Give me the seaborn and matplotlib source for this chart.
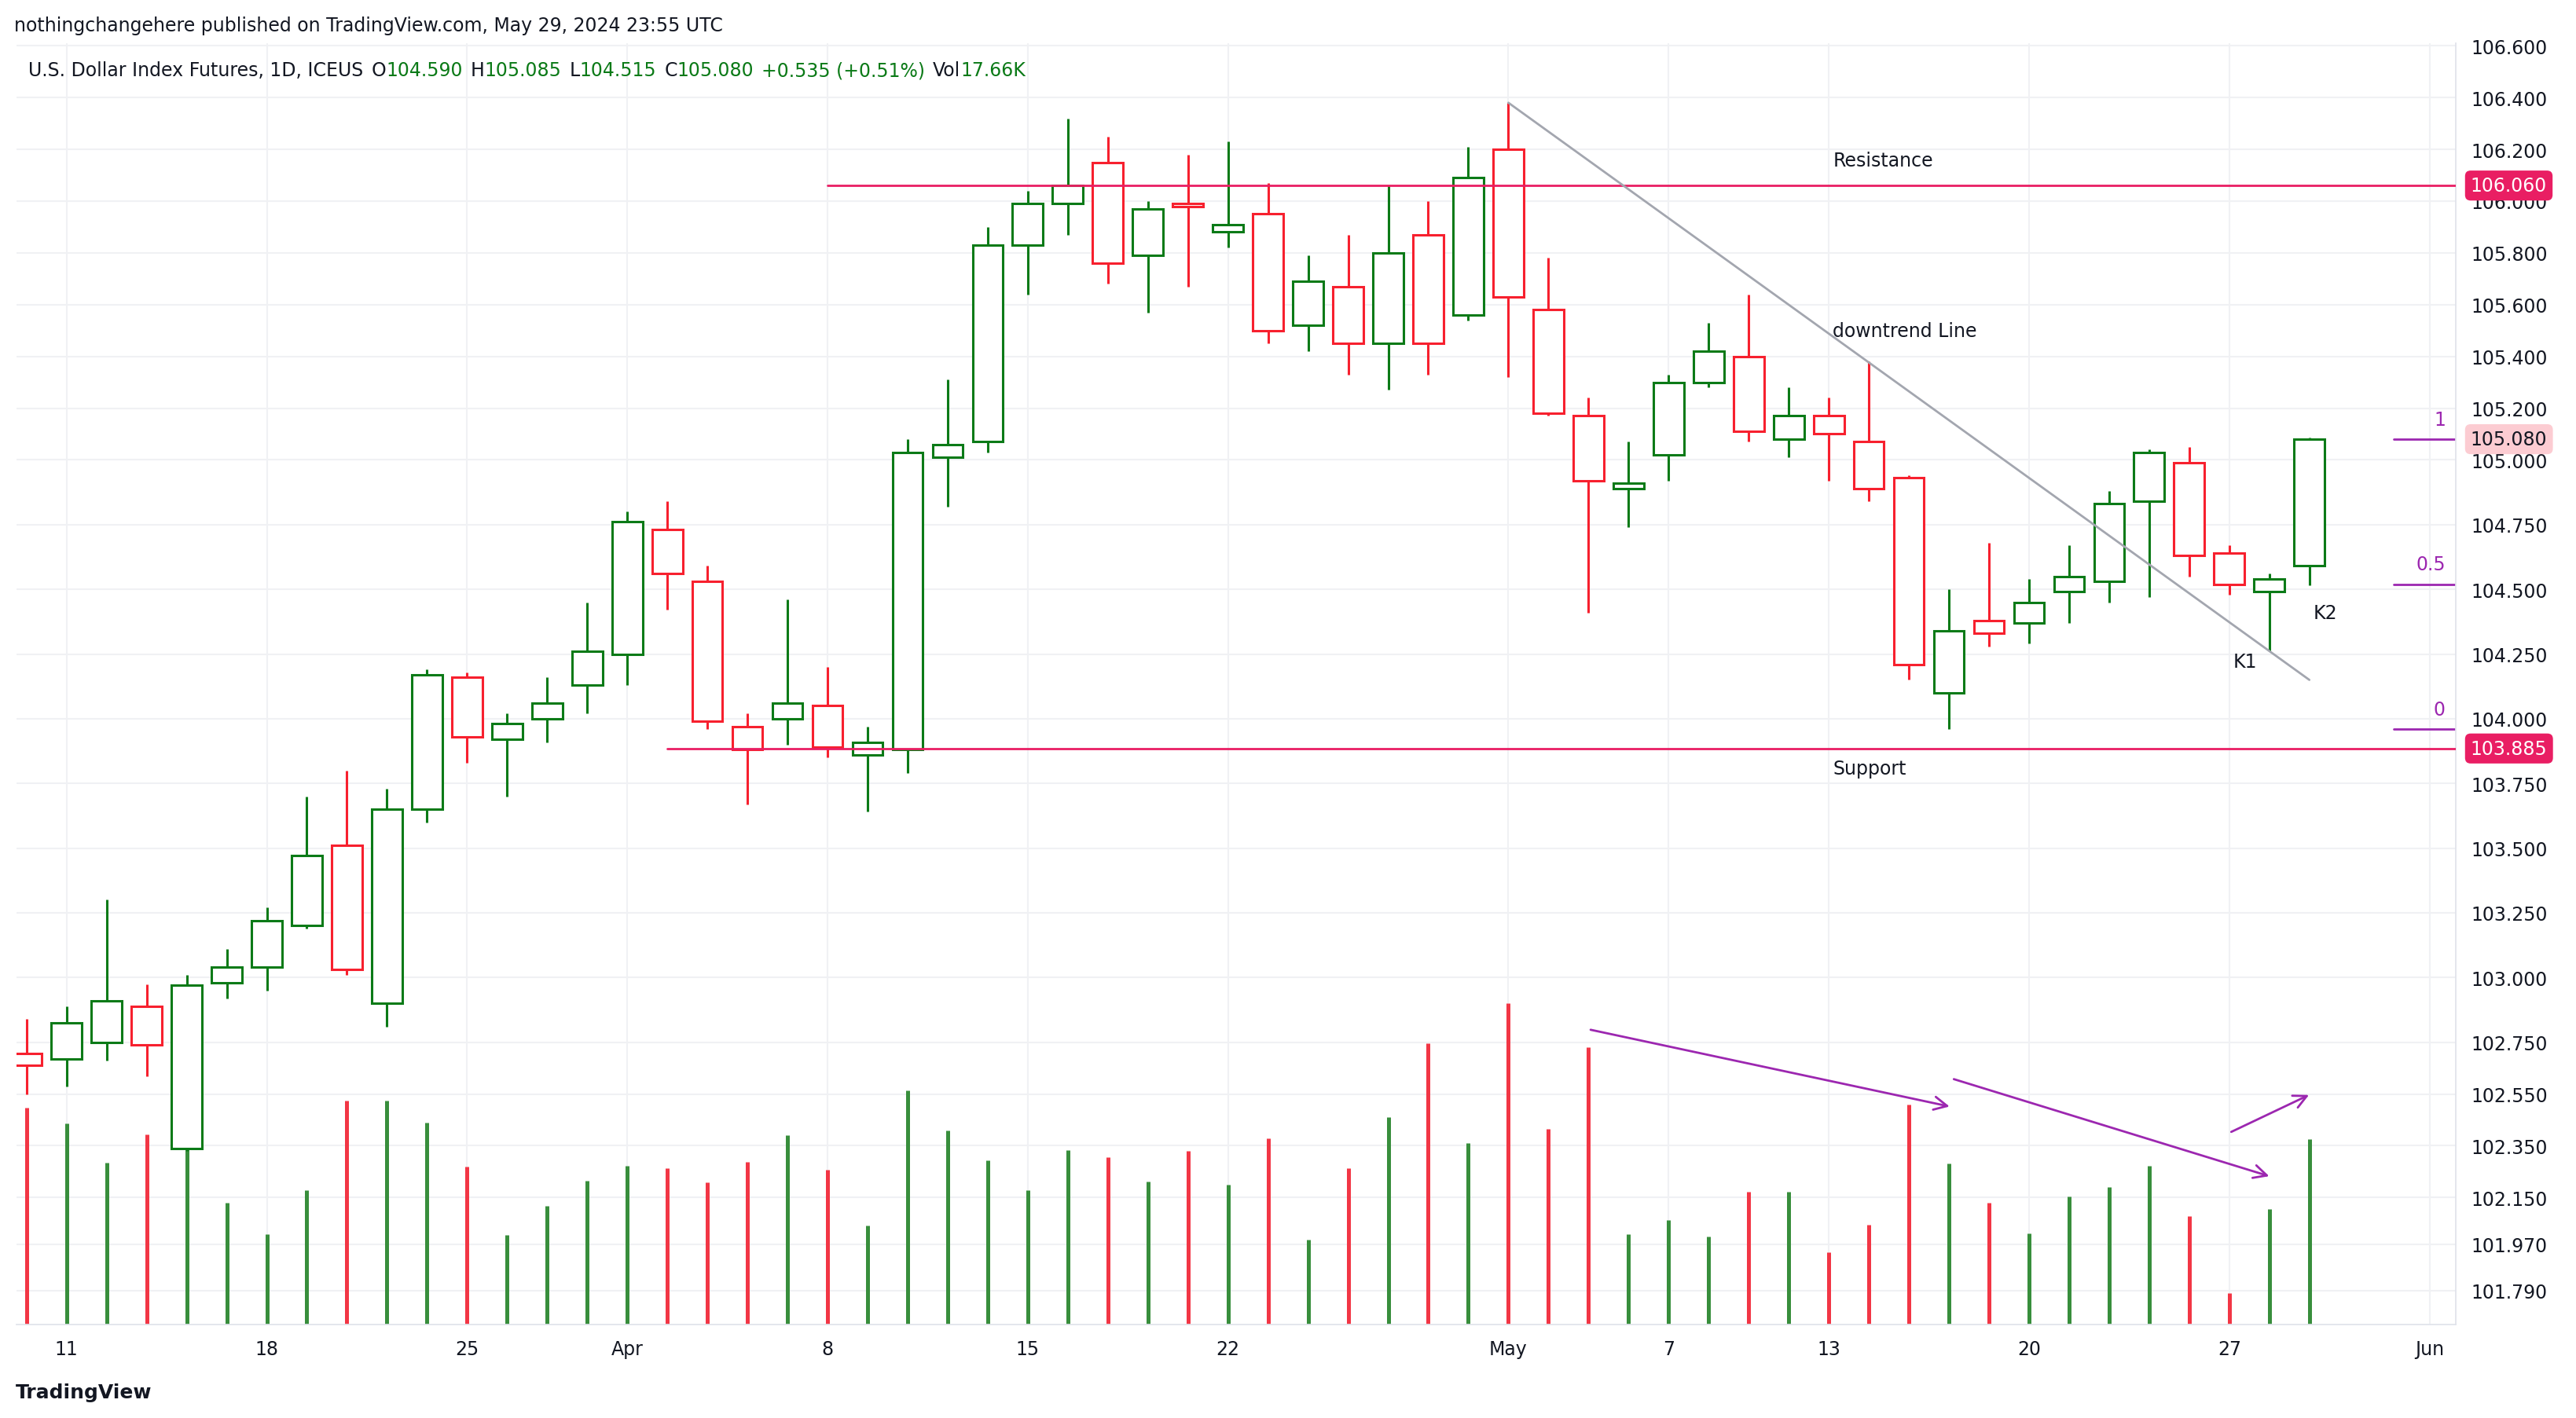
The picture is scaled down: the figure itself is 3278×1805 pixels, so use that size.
import numpy as np
import pandas as pd
import seaborn as sns
import matplotlib.pyplot as plt
import matplotlib.transforms as mtransforms

sns.set_theme(style="white")

# daily bars, Mar 8 .. May 29 2024 (trading days only)
opens = [102.706, 102.685, 102.75, 102.89, 102.34, 102.98, 103.04, 103.2, 103.51, 102.90,
         103.65, 104.16, 103.92, 104.0, 104.13, 104.25, 104.73, 104.53, 103.97, 104.0,
         104.05, 103.86, 103.88, 105.01, 105.07, 105.83, 105.99, 106.15, 105.79, 105.99,
         105.88, 105.95, 105.52, 105.67, 105.45, 105.87, 105.56, 106.2, 105.58, 105.17,
         104.89, 105.02, 105.30, 105.40, 105.08, 105.17, 105.07, 104.93, 104.10, 104.38,
         104.37, 104.49, 104.53, 104.84, 104.99, 104.64, 104.49, 104.59]
closes = [102.66, 102.825, 102.91, 102.74, 102.97, 103.04, 103.22, 103.47, 103.03, 103.65,
          104.17, 103.93, 103.98, 104.06, 104.26, 104.76, 104.56, 103.99, 103.88, 104.06,
          103.89, 103.91, 105.03, 105.06, 105.83, 105.99, 106.06, 105.76, 105.97, 105.98,
          105.91, 105.5, 105.69, 105.45, 105.8, 105.45, 106.09, 105.63, 105.18, 104.92,
          104.91, 105.30, 105.42, 105.11, 105.17, 105.10, 104.89, 104.21, 104.34, 104.33,
          104.45, 104.55, 104.83, 105.03, 104.63, 104.52, 104.54, 105.08]
highs = [102.84, 102.89, 103.30, 102.975, 103.01, 103.11, 103.27, 103.70, 103.80, 103.73,
         104.19, 104.18, 104.02, 104.16, 104.45, 104.80, 104.84, 104.59, 104.02, 104.46,
         104.2, 103.97, 105.08, 105.31, 105.90, 106.04, 106.32, 106.25, 106.0, 106.18,
         106.23, 106.07, 105.79, 105.87, 106.06, 106.0, 106.21, 106.38, 105.78, 105.24,
         105.07, 105.33, 105.53, 105.64, 105.28, 105.24, 105.38, 104.94, 104.50, 104.68,
         104.54, 104.67, 104.88, 105.04, 105.05, 104.67, 104.56, 105.085]
lows = [102.55, 102.58, 102.68, 102.62, 102.33, 102.92, 102.95, 103.19, 103.01, 102.81,
        103.60, 103.83, 103.70, 103.91, 104.02, 104.13, 104.42, 103.96, 103.67, 103.90,
        103.85, 103.64, 103.79, 104.82, 105.03, 105.64, 105.87, 105.68, 105.57, 105.67,
        105.82, 105.45, 105.42, 105.33, 105.27, 105.33, 105.54, 105.32, 105.17, 104.41,
        104.74, 104.92, 105.28, 105.07, 105.01, 104.92, 104.84, 104.15, 103.96, 104.28,
        104.29, 104.37, 104.45, 104.47, 104.55, 104.48, 104.26, 104.515]
volumes = [20.6, 19.1, 15.4, 18.1, 23.1, 11.6, 8.6, 12.8, 21.3, 21.3,
           19.2, 15.0, 8.5, 11.3, 13.7, 15.1, 14.9, 13.5, 15.5, 18.0,
           14.7, 9.4, 22.3, 18.5, 15.6, 12.8, 16.6, 15.9, 13.6, 16.5,
           13.3, 17.7, 8.1, 14.9, 19.7, 26.8, 17.3, 30.6, 18.6, 26.4,
           8.6, 9.9, 8.4, 12.6, 12.6, 6.9, 9.5, 20.9, 15.3, 11.6,
           8.7, 12.2, 13.1, 15.1, 10.3, 3.0, 11.0, 17.66]

tick_pos = [1, 6, 11, 15, 20, 25, 30, 37, 41, 45, 50, 55, 60]
tick_lab = ["11", "18", "25", "Apr", "8", "15", "22", "May", "7", "13", "20", "27", "Jun"]
price_ticks = [106.6, 106.4, 106.2, 106.0, 105.8, 105.6, 105.4, 105.2, 105.0, 104.75, 104.5,
               104.25, 104.0, 103.75, 103.5, 103.25, 103.0, 102.75, 102.55, 102.35, 102.15,
               101.97, 101.79]
resistance = 106.06
support = 103.885
fib_levels = [(105.08, "1"), (104.52, "0.5"), (103.96, "0")]

df = pd.DataFrame({"o": opens, "c": closes, "h": highs, "l": lows, "v": volumes})
df["x"] = np.arange(len(df))
df["up"] = df["c"] >= df["o"]

GREEN, RED = "#0b7a17", "#f7202e"
VGREEN, VRED = "#388e3c", "#f23645"
PURPLE, PINK = "#9c27b0", "#e91e63"
TXT = "#131722"
VOL_TOP = 122.0  # volume scale so the tallest bar fills ~1/4 of the pane

fig = plt.figure(figsize=(32.78, 18.06), dpi=100)
ax = fig.add_axes([0.0064, 0.066, 0.947, 0.903])

ax.set_xlim(-0.25, 60.66)
ax.set_ylim(101.66, 106.61)
ax.grid(True, color="#f0f1f4", lw=1.5, zorder=0)
ax.set_axisbelow(True)

# volume, drawn in axes-fraction height at the bottom of the pane
vtr = mtransforms.blended_transform_factory(ax.transData, ax.transAxes)
ax.vlines(df["x"], 0, df["v"] / VOL_TOP, transform=vtr, lw=3.6,
          colors=np.where(df["up"], VGREEN, VRED), zorder=1)

# candles
for _, r in df.iterrows():
    col = GREEN if r.up else RED
    top, bot = max(r.o, r.c), min(r.o, r.c)
    ax.vlines(r.x, top, r.h, color=col, lw=2.2, zorder=2)
    ax.vlines(r.x, r.l, bot, color=col, lw=2.2, zorder=2)
    ax.add_patch(plt.Rectangle((r.x - 0.38, bot), 0.76, max(top - bot, 0.008),
                               facecolor="white", edgecolor=col, lw=2.2, zorder=3))

ax.set_xticks(tick_pos)
ax.set_xticklabels(tick_lab, fontsize=17, color=TXT)
ax.yaxis.tick_right()
ax.set_yticks(price_ticks)
ax.set_yticklabels([f"{t:.3f}" for t in price_ticks], fontsize=17, color=TXT)
ax.tick_params(length=0, pad=14)
for s in ["top", "left"]:
    ax.spines[s].set_visible(False)
for s in ["right", "bottom"]:
    ax.spines[s].set_color("#e0e3eb")

# horizontal levels
ax.plot([20, 60.66], [resistance] * 2, color=PINK, lw=2, zorder=4)
ax.plot([16, 60.66], [support] * 2, color=PINK, lw=2, zorder=4)
ax.text(45.1, resistance + 0.06, "Resistance", fontsize=17, color=TXT, ha="left", va="bottom")
ax.text(45.1, support - 0.04, "Support", fontsize=17, color=TXT, ha="left", va="top")
ax.plot([37, 57], [106.38, 104.15], color="#a3a6af", lw=2, zorder=4)
ax.text(45.1, 105.5, "downtrend Line", fontsize=17, color=TXT, ha="left", va="center")
ax.text(55.4, 104.22, "K1", fontsize=17, color=TXT, ha="center", va="center")
ax.text(57.4, 104.41, "K2", fontsize=17, color=TXT, ha="center", va="center")

for lv, lab in fib_levels:
    ax.plot([59.1, 60.66], [lv, lv], color=PURPLE, lw=2)
    ax.text(60.4, lv + 0.04, lab, fontsize=17, color=PURPLE, ha="right", va="bottom")

# volume arrows
for (x0, y0, x1, y1) in [(39.0, 102.80, 48.07, 102.50), (48.07, 102.61, 56.05, 102.23),
                         (55.0, 102.40, 57.04, 102.55)]:
    ax.annotate("", xy=(x1, y1), xytext=(x0, y0),
                arrowprops=dict(arrowstyle="->", color=PURPLE, lw=2, mutation_scale=30))

# price labels on the right scale
tr = mtransforms.blended_transform_factory(ax.transAxes, ax.transData)
for val, fc, tc in [(resistance, PINK, "white"), (closes[-1], "#fcccd2", TXT),
                    (support, PINK, "white")]:
    ax.text(1.006, val, f"{val:.3f}", transform=tr, fontsize=17, color=tc, ha="left", va="center",
            bbox=dict(boxstyle="round,pad=0.3", fc=fc, ec="none"), zorder=10)

fig.text(0.0055, 0.982, "nothingchangehere published on TradingView.com, May 29, 2024 23:55 UTC",
         fontsize=17, color=TXT, va="center")

# legend line: lay pieces out one after another
hdr = [("U.S. Dollar Index Futures, 1D, ICEUS", TXT, 0), ("O", TXT, 10), ("104.590", GREEN, 0),
       ("H", TXT, 10), ("105.085", GREEN, 0), ("L", TXT, 10), ("104.515", GREEN, 0),
       ("C", TXT, 10), ("105.080", GREEN, 0), ("+0.535 (+0.51%)", GREEN, 10),
       ("Vol", TXT, 10), ("17.66K", GREEN, 0)]
renderer = fig.canvas.get_renderer()
xpix = 0.011 * fig.bbox.width
for t, c, gap in hdr:
    xpix += gap
    txt = fig.text(xpix / fig.bbox.width, 0.950, t, fontsize=17, color=c, va="center")
    xpix += txt.get_window_extent(renderer).width

fig.text(0.006, 0.018, "TradingView", fontsize=18, color=TXT, va="center", weight="bold")

fig.savefig("out.png", dpi=100)
